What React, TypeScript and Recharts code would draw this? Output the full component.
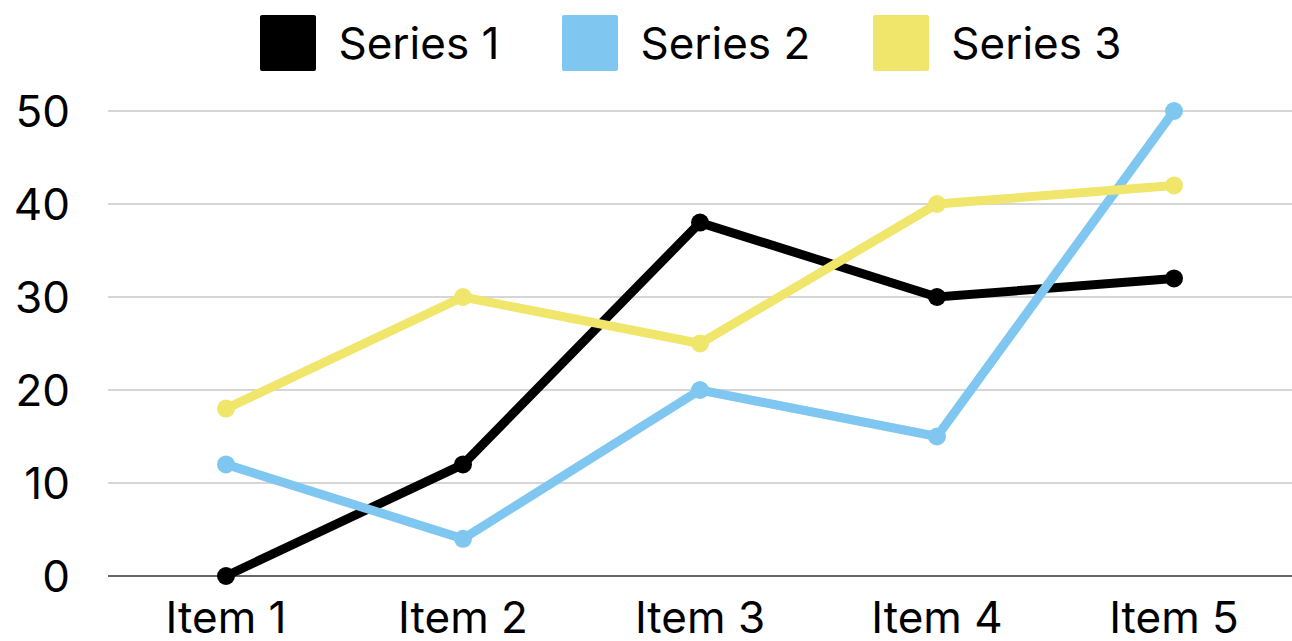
import React from "react";
import {
  LineChart,
  Line,
  XAxis,
  YAxis,
  CartesianGrid,
  Legend,
  ReferenceLine,
} from "recharts";

const categories = ["Item 1", "Item 2", "Item 3", "Item 4", "Item 5"];
const series1 = [0, 12, 38, 30, 32];
const series2 = [12, 4, 20, 15, 50];
const series3 = [18, 30, 25, 40, 42];
const yTicks = [0, 10, 20, 30, 40, 50];

const seriesInfo = [
  { key: "s1", name: "Series 1", color: "#000000" },
  { key: "s2", name: "Series 2", color: "#7fc7f0" },
  { key: "s3", name: "Series 3", color: "#f0e66c" },
];

const data = categories.map((name, i) => ({
  name,
  s1: series1[i],
  s2: series2[i],
  s3: series3[i],
}));

const FONT = "Inter, 'Noto Sans', sans-serif";

const renderLegend = () => (
  <div
    style={{
      display: "flex",
      justifyContent: "center",
      paddingTop: 15,
      paddingLeft: 90,
      fontFamily: FONT,
      fontSize: 44,
      color: "#000",
    }}
  >
    {seriesInfo.map((s, i) => (
      <div
        key={s.key}
        style={{
          display: "flex",
          alignItems: "center",
          marginRight: i < seriesInfo.length - 1 ? 63 : 0,
        }}
      >
        <div
          style={{
            width: 56,
            height: 56,
            background: s.color,
            borderRadius: 2,
            marginRight: 22,
          }}
        />
        <span style={{ lineHeight: "56px" }}>{s.name}</span>
      </div>
    ))}
  </div>
);

export default function App() {
  return (
    <div style={{ position: "absolute", left: 0, top: 0, background: "#fff" }}>
      <LineChart
        width={1292}
        height={641}
        data={data}
        margin={{ top: 0, right: 0, left: 0, bottom: 0 }}
      >
        <Legend
          verticalAlign="top"
          height={111}
          content={renderLegend}
          wrapperStyle={{ left: 0, width: 1292, top: 0 }}
        />
        <CartesianGrid vertical={false} stroke="#c8c8c8" strokeWidth={1.5} />
        <XAxis
          dataKey="name"
          height={65}
          padding={{ left: 118, right: 118 }}
          axisLine={false}
          tickLine={false}
          tickSize={0}
          tickMargin={26}
          tick={{ fill: "#000", fontSize: 44, fontFamily: FONT }}
        />
        <YAxis
          width={108}
          domain={[0, 50]}
          ticks={yTicks}
          axisLine={false}
          tickLine={false}
          tickSize={0}
          tickMargin={38}
          tick={{ fill: "#000", fontSize: 44, fontFamily: FONT }}
        />
        <ReferenceLine y={0} stroke="#666666" strokeWidth={2} />
        {seriesInfo.map((s) => (
          <Line
            key={s.key}
            type="linear"
            dataKey={s.key}
            name={s.name}
            stroke={s.color}
            strokeWidth={9}
            dot={{ r: 9, fill: s.color, stroke: "none" }}
            activeDot={false}
            isAnimationActive={false}
          />
        ))}
      </LineChart>
    </div>
  );
}
